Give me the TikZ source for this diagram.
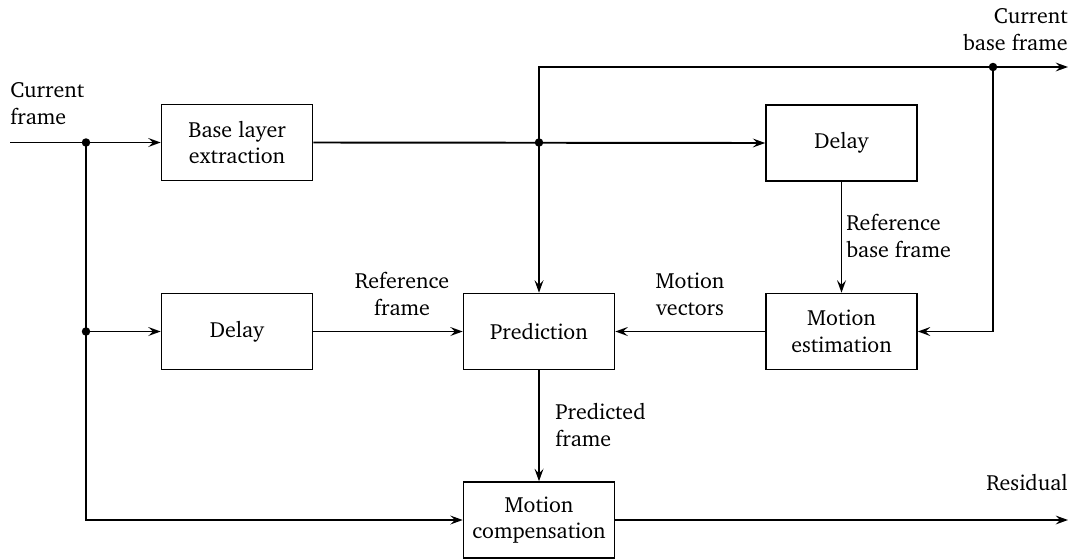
\documentclass[tikz,border=0pt]{standalone}
\usepackage[T1]{fontenc}
\usepackage{charter}
\usetikzlibrary{arrows.meta}

\begin{document}
\begin{tikzpicture}[x=0.02cm,y=-0.02cm,
		font=\fontsize{12.5}{15.2}\selectfont,
		>={Stealth[length=7pt,width=5pt,inset=2.5pt]},
		block/.style={draw,line width=0.9pt,minimum width=3.02cm,minimum height=1.52cm,align=center,inner sep=0pt},
		flow/.style={line width=1.1pt},
		dot/.style={circle,fill,inner sep=0pt,minimum size=0.17cm},
		lbl/.style={inner sep=0pt}]
		\useasboundingbox (0,0) rectangle (1075,558);

		% blocks
		\node[block] (ble) at (237,142.5) {Base layer\\extraction};
		\node[block] (dtop) at (841.5,143) {Delay};
		\node[block] (me) at (841.5,331.5) {Motion\\estimation};
		\node[block] (pred) at (539,331.5) {Prediction};
		\node[block] (dlow) at (237,331.5) {Delay};
		\node[block] (mc) at (539,520) {Motion\\compensation};

		% junctions and free ends
		\node[dot] (j1) at (86,142.5) {};
		\node[dot] (j2) at (86,331.5) {};
		\node[dot] (j3) at (539,142.5) {};
		\node[dot] (j4) at (993,67) {};
		\coordinate (in) at (10,142.5);
		\coordinate (outb) at (1068,67);
		\coordinate (outr) at (1068,520);

		% connectors
		\draw[flow] (in) -- (j1.center);
		\draw[flow,->] (j1.center) -- (ble.west);
		\draw[flow,->] (ble.east) -- (dtop.west);
		\draw[flow,->] (j3.center) |- (j4.center) -- (outb);
		\draw[flow,->] (j3.center) -- (pred.north);
		\draw[flow,->] (j4.center) |- (me.east);
		\draw[flow,->] (dtop.south) -- (me.north);
		\draw[flow,->] (me.west) -- (pred.east);
		\draw[flow] (j1.center) -- (j2.center);
		\draw[flow,->] (j2.center) -- (dlow.west);
		\draw[flow,->] (dlow.east) -- (pred.west);
		\draw[flow,->] (j2.center) |- (mc.west);
		\draw[flow,->] (pred.south) -- (mc.north);
		\draw[flow,->] (mc.east) -- (outr);

		% labels
		\node[lbl,anchor=west,align=left] at (10,104) {Current\\frame};
		\node[lbl,anchor=east,align=right] at (1068,30) {Current\\base frame};
		\node[lbl,anchor=west,align=left] at (846,236) {Reference\\base frame};
		\node[lbl,align=center] at (402,294) {Reference\\frame};
		\node[lbl,align=center] at (690,294) {Motion\\vectors};
		\node[lbl,anchor=west,align=left] at (555,425) {Predicted\\frame};
		\node[lbl,anchor=east] at (1068,483) {Residual};
	\end{tikzpicture}
\end{document}
